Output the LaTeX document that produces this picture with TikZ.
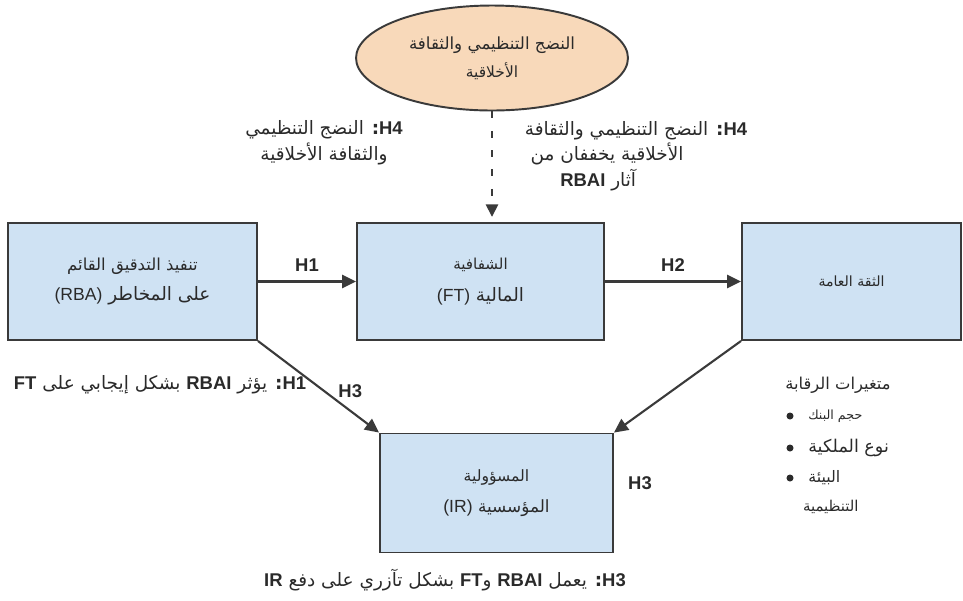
\documentclass[tikz,border=0pt]{standalone}
\usepackage{fontspec}
\setmainfont{Liberation Sans}
\newfontfamily\arabicfont[Script=Arabic]{DejaVu Sans}
\TeXXeTstate=1
\usetikzlibrary{arrows.meta,shapes.geometric,positioning}
\definecolor{boxblue}{HTML}{CFE2F3}
\definecolor{peach}{HTML}{F8D9BA}
\definecolor{linegray}{HTML}{3A3A3A}
\definecolor{textgray}{HTML}{2A2A2A}
\newcommand\arline[1]{{\arabicfont\beginR #1\endR}}
\newcommand\enword[1]{\beginL{\normalfont\bfseries #1}\endL}
\newcommand\enplain[1]{\beginL{\normalfont\fontsize{10}{12}\selectfont #1}\endL}
\newcommand\fsz[1]{\fontsize{#1}{1.2\dimexpr#1pt}\selectfont}
\begin{document}
\begin{tikzpicture}[x=0.02cm, y=-0.02cm,
    box/.style={draw=linegray, line width=1.1pt, fill=boxblue, minimum height=2.34cm, align=center, text=textgray},
    link/.style={draw=linegray, line width=1.2pt, -{Triangle[length=8pt, width=7.5pt]}},
    hyp/.style={font=\bfseries\fontsize{10.5}{12}\selectfont, text=textgray},
    note/.style={align=center, text=textgray, font=\fsz{10.5}},
    dot/.style={circle, fill=textgray, inner sep=0pt, minimum size=4pt},
    item/.style={text=textgray, inner sep=1pt}]
  \useasboundingbox (0,0) rectangle (963,600);
  \node[ellipse, draw=linegray, line width=1.1pt, fill=peach, minimum width=5.44cm, minimum height=2.1cm, align=center, text=textgray] (ethic) at (492,58)
    {\arline{\fsz{9.5}النضج التنظيمي والثقافة}\\[4pt]\arline{\fsz{8.8}الأخلاقية}};
  \node[box, minimum width=4.98cm] (rba) at (132.5,281.5)
    {\arline{\fsz{9.4}تنفيذ التدقيق القائم}\\[5pt]\arline{\fsz{10.5}على المخاطر \enplain{(RBA)}}};
  \node[box, minimum width=4.94cm] (ft) at (480.5,281.5)
    {\arline{\fsz{8.6}الشفافية}\\[6pt]\arline{\fsz{10.5}المالية \enplain{(FT)}}};
  \node[box, minimum width=4.38cm] (trust) at (851.5,281.5) {\arline{\fsz{8}الثقة العامة}};
  \node[box, minimum width=4.66cm, minimum height=2.38cm] (ir) at (496.5,493)
    {\arline{\fsz{8.9}المسؤولية}\\[6pt]\arline{\fsz{9.6}المؤسسية \enplain{(IR)}}};

  \draw[link] (rba.east) -- (ft.west) node[midway, above=2pt, hyp] {H1};
  \draw[link] (ft.east) -- (trust.west) node[midway, above=2pt, hyp] {H2};
  \draw[link] (rba.south east) -- (ir.north west) node[pos=.55, right=4pt, hyp] {H3};
  \draw[link] (trust.south west) -- (ir.north east);
  \draw[draw=linegray, line width=0.9pt, dash pattern=on 4pt off 7pt, -{Triangle[length=7pt, width=7pt]}, shorten >=3pt] (ethic.south) -- (ethic.south |- ft.north);

  \node[note] (h4left) at (324,143)
    {\arline{\enword{H4}\textbf{:} النضج التنظيمي}\\[2pt]\arline{والثقافة الأخلاقية}};
  \node[note] (h4right) at (636,156)
    {\arline{\enword{H4}\textbf{:} النضج التنظيمي والثقافة}\\[2pt]\arline{الأخلاقية يخففان من}\rule{33pt}{0pt}\\[2pt]\arline{آثار \enword{RBAI}}\rule{43pt}{0pt}};
  \node[note] (h1note) at (160,385)
    {\arline{\enword{H1}\textbf{:} يؤثر \enword{RBAI} بشكل إيجابي على \enword{FT}}};
  \node[hyp] (h3side) at (640,483) {H3};
  \node[note] (h3note) at (445,580)
    {\arline{\enword{H3}\textbf{:} يعمل \enword{RBAI} و\enword{FT} بشكل تآزري على دفع \enword{IR}}};

  \node[note, font=\fsz{9.3}] (ctrl) at (838,385) {\arline{متغيرات الرقابة}};
  \node[dot] (d1) at (790,416) {};
  \node[dot] (d2) at (790,448) {};
  \node[dot] (d3) at (790,478) {};
  \node[item, right=7pt of d1, font=\fsz{7.2}] (size) {\arline{حجم البنك}};
  \node[item, right=7pt of d2, font=\fsz{10}] (owner) {\arline{نوع الملكية}};
  \node[item, right=7pt of d3, font=\fsz{9}] (env) {\arline{البيئة}};
  \node[item, below=6pt of env.south west, anchor=north west, xshift=-3pt, font=\fsz{8.5}] (envb) {\arline{التنظيمية}};
\end{tikzpicture}
\end{document}
